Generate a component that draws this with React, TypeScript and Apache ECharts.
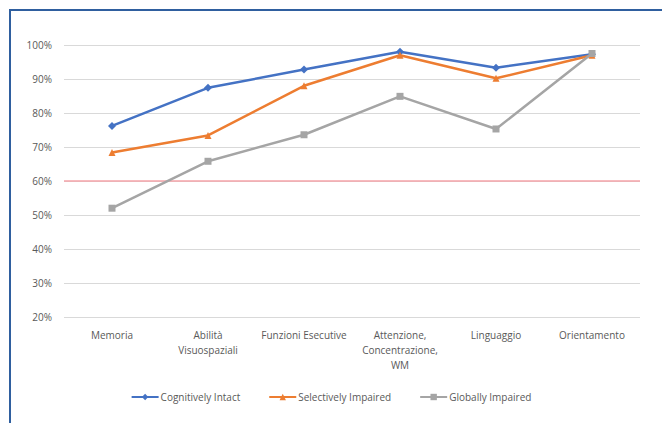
import React, { useEffect, useRef } from "react";
import * as echarts from "echarts";

const categories = [
  "Memoria",
  "Abilità\nVisuospaziali",
  "Funzioni Esecutive",
  "Attenzione,\nConcentrazione,\nWM",
  "Linguaggio",
  "Orientamento",
];
const cognitivelyIntact = [76.2, 87.4, 92.8, 98.0, 93.3, 97.3];
const selectivelyImpaired = [68.4, 73.4, 88.0, 97.0, 90.2, 97.0];
const globallyImpaired = [52.0, 65.8, 73.6, 84.9, 75.3, 97.5];
const threshold = 60;

const FONT = "'Open Sans', 'Noto Sans', sans-serif";
const TEXT = "#595959";

export default function App() {
  const ref = useRef<HTMLDivElement>(null);

  useEffect(() => {
    if (!ref.current) return;
    const chart = echarts.init(ref.current, null, { renderer: "svg" });
    const mk = (name: string, data: number[], color: string, symbol: string, size: number) => ({
      name,
      type: "line",
      data,
      symbol,
      symbolSize: size,
      lineStyle: { color, width: 2.5 },
      itemStyle: { color },
      z: 3,
    });
    chart.setOption({
      animation: false,
      backgroundColor: "#ffffff",
      textStyle: { fontFamily: FONT },
      graphic: [
        {
          type: "rect",
          shape: { x: 10, y: 10, width: 700, height: 500 },
          style: { fill: "none", stroke: "#2F5F9F", lineWidth: 2 },
          silent: true,
        },
      ],
      grid: { left: 64, right: 22, top: 45, bottom: 106, containLabel: false },
      xAxis: {
        type: "category",
        data: categories,
        boundaryGap: true,
        axisLine: { show: false },
        axisTick: { show: false },
        axisLabel: {
          color: TEXT,
          fontSize: 10,
          fontFamily: FONT,
          margin: 10,
          lineHeight: 15,
          interval: 0,
        },
      },
      yAxis: {
        type: "value",
        min: 20,
        max: 100,
        interval: 10,
        axisLine: { show: false },
        axisTick: { show: false },
        axisLabel: {
          color: TEXT,
          fontSize: 10,
          fontFamily: FONT,
          margin: 12,
          formatter: "{value}%",
        },
        splitLine: { lineStyle: { color: "#D9D9D9", width: 1 } },
      },
      legend: {
        top: 387,
        left: "center",
        itemWidth: 27,
        itemHeight: 8,
        itemGap: 28,
        textStyle: { color: TEXT, fontSize: 10, fontFamily: FONT, padding: [0, 0, 0, -3] },
        data: ["Cognitively Intact", "Selectively Impaired", "Globally Impaired"],
      },
      series: [
        {
          ...mk("Cognitively Intact", cognitivelyIntact, "#4472C4", "diamond", 8),
          markLine: {
            silent: true,
            symbol: "none",
            label: { show: false },
            lineStyle: { color: "#F4A3A8", width: 1.5, type: "solid" },
            data: [{ yAxis: threshold }],
            z: 1,
          },
        },
        mk("Selectively Impaired", selectivelyImpaired, "#ED7D31", "triangle", 7),
        mk("Globally Impaired", globallyImpaired, "#A5A5A5", "rect", 7),
      ],
    });
    return () => chart.dispose();
  }, []);

  return (
    <div
      ref={ref}
      style={{ position: "fixed", left: 0, top: 0, width: 662, height: 423, background: "#fff" }}
    />
  );
}
